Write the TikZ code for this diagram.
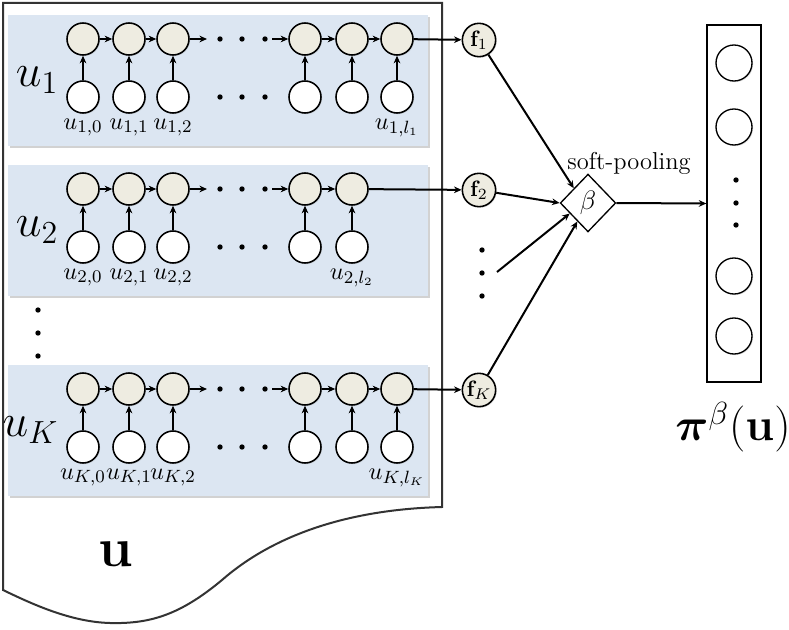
\documentclass[tikz,border=0pt]{standalone}
\usepackage{amsmath}
\usepackage{tikz}
\usepackage{xcolor}
\usetikzlibrary{positioning, arrows.meta, shapes.geometric, shadows}
\definecolor{pBlue}{HTML}{DCE6F2}
\definecolor{pBeige}{HTML}{EEECE1}
\definecolor{pGray}{HTML}{333333}

\begin{document}
\begin{tikzpicture}[x=0.45pt, y=-0.45pt,
  hid/.style={circle, draw, fill=pBeige, minimum size=14.4pt, inner sep=0pt,
              line width=0.7pt, drop shadow={opacity=0.25, shadow xshift=0.5pt, shadow yshift=-0.5pt}},
  inp/.style={hid, fill=white},
  fnode/.style={hid, minimum size=15pt},
  link/.style={-{Stealth[length=3.4pt, width=3pt]}, line width=0.9pt},
  panel/.style={fill=pBlue, drop shadow={opacity=0.35, shadow xshift=0.8pt, shadow yshift=-0.8pt}},
  sub/.style={inner sep=1pt, font=\fontsize{11}{13}\selectfont},
]
  \useasboundingbox (0,0) rectangle (789,629);
  % the document u
  \draw[pGray, line width=0.9pt, fill=white] (3,3) -- (442,3) -- (442,507)
    .. controls (330,510) and (262,545) .. (222,580)
    .. controls (180,615) and (150,624) .. (110,623)
    .. controls (70,622) and (30,603) .. (3,590) -- cycle;
  \node[font=\fontsize{24}{28}\selectfont] (doclbl) at (116,554) {$\mathbf{u}$};

  % one panel per sequence
  \foreach \r/\y/\last in {1/0/6, 2/150/5, K/350/6} {
    \fill[panel] (8,\y+15) rectangle (428,\y+146);
    \node[anchor=east, font=\huge, inner sep=1pt] (lab\r) at (61,\y+80) {$u_\r$};
    \foreach \i/\xx in {1/83,2/129,3/173,4/305,5/352,6/397} {
      \ifnum\i>\last\relax\else
        \node[hid] (h\r-\i) at (\xx,\y+39) {};
        \node[inp] (x\r-\i) at (\xx,\y+97) {};
        \draw[link] (x\r-\i) -- (h\r-\i);
      \fi
    }
    \coordinate (a\r) at (207,\y+39);
    \coordinate (b\r) at (272,\y+39);
    \draw[link] (h\r-1) -- (h\r-2);
    \draw[link] (h\r-2) -- (h\r-3);
    \draw[link] (h\r-3) -- (a\r);
    \draw[link] (b\r) -- (h\r-4);
    \draw[link] (h\r-4) -- (h\r-5);
    \ifnum\last=6 \draw[link] (h\r-5) -- (h\r-6); \fi
    \foreach \dx in {220,242,265} {
      \fill (\dx,\y+39) circle (1.2pt);
      \fill (\dx,\y+97) circle (1.2pt);
    }
    \node[sub, below=1pt of x\r-1] {$u_{\r,0}$};
    \node[sub, below=1pt of x\r-2] {$u_{\r,1}$};
    \node[sub, below=1pt of x\r-3] {$u_{\r,2}$};
    \node[sub, below=1pt of x\r-\last] {$u_{\r,l_\r}$};
    \node[fnode] (f\r) at (479,\y+40) {$\mathbf{f}_\r$};
    \draw[link] (h\r-\last) -- (f\r);
  }
  \foreach \yy in {310,333,356} \fill (38,\yy) circle (1.2pt);
  \foreach \yy in {250,273,296} \fill (482,\yy) circle (1.2pt);
  \coordinate (dd) at (497,272);

  % soft-pooling
  \node[diamond, draw, fill=white, minimum width=25pt, minimum height=26pt, inner sep=0pt,
        line width=0.6pt, font=\large] (pool) at (588,203) {$\beta$};
  \node[font=\fontsize{11}{13}\selectfont] (poollbl) at (629,163) {soft-pooling};
  \draw[link] (f1) -- (pool.north west);
  \draw[link] (f2) -- (pool.west);
  \draw[link] (dd) -- (pool.210);
  \draw[link] (fK) -- (pool.240);

  % output vector
  \node[draw, minimum width=24.3pt, minimum height=160.6pt, inner sep=0pt, line width=0.6pt] (vec) at (734,203.5) {};
  \foreach \i/\yy in {1/63,2/127,3/276,4/336}
    \node[inp, minimum size=16.2pt, line width=0.6pt] (o\i) at (734,\yy) {};
  \foreach \yy in {180,203,225} \fill (736,\yy) circle (1.2pt);
  \draw[link] (pool.east) -- (vec.west);
  \node[font=\huge] (veclbl) at (733,427) {$\boldsymbol{\pi}^{\beta}(\mathbf{u})$};
\end{tikzpicture}
\end{document}
